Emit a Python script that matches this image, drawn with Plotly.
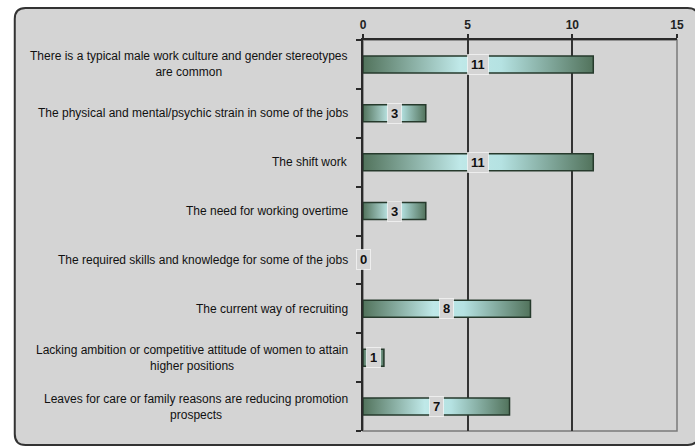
import plotly.graph_objects as go

categories = [
    "There is a typical male work culture and gender stereotypes<br>are common",
    "The physical and mental/psychic strain in some of the jobs",
    "The shift work",
    "The need for working overtime",
    "The required skills and knowledge for some of the jobs",
    "The current way of recruiting",
    "Lacking ambition or competitive attitude of women to attain<br>higher positions",
    "Leaves for care or family reasons are reducing promotion<br>prospects",
]
values = [11, 3, 11, 3, 0, 8, 1, 7]
x_ticks = [0, 5, 10, 15]

W, H = 695, 448
ML, MR, MT, MB = 363, 11, 40, 17
PW, PH = W - ML - MR, H - MT - MB

def px2x(px):
    return (px - ML) / PW

def py2y(py):
    return (H - MB - py) / PH

BG = "#d4d4d4"
DARK = "#2a2a2a"
BAR_DARK = "#52735c"
BAR_LIGHT = "#bfe8e8"
HALF = 0.175

fig = go.Figure()

for i, v in enumerate(values):
    if v <= 0:
        continue
    fig.add_trace(go.Scatter(
        x=[0, v, v, 0, 0],
        y=[i - HALF, i - HALF, i + HALF, i + HALF, i - HALF],
        mode="lines",
        fill="toself",
        fillgradient=dict(type="horizontal",
                          colorscale=[[0, BAR_DARK], [0.42, BAR_LIGHT],
                                      [0.6, "#b5e2e2"], [1, BAR_DARK]]),
        line=dict(color="#263a2c", width=1.5),
        hoverinfo="skip",
        showlegend=False,
    ))

annotations = []
for i, (c, v) in enumerate(zip(categories, values)):
    annotations.append(dict(
        x=0, xref="paper", y=i, yref="y", xanchor="right", yanchor="middle",
        xshift=-13, text=c, align="center", showarrow=False,
        font=dict(family="Liberation Sans Narrow, Arial Narrow, Liberation Sans, Arial",
                  size=12, color="#111111"),
    ))
    annotations.append(dict(
        x=v / 2, xref="x", y=i, yref="y", text="<b>%d</b>" % v, showarrow=False,
        xanchor="center", yanchor="middle", height=13,
        bgcolor=BG, bordercolor="rgba(255,255,255,0.6)", borderwidth=1, borderpad=3,
        font=dict(family="Liberation Sans, Arial", size=13, color="#111111"),
    ))

# rounded card behind everything (right edge runs off the picture)
L, T, R, B, r = 7, 8, 706, 445, 11
path = (
    f"M {px2x(L + r)} {py2y(T)} L {px2x(R - r)} {py2y(T)} "
    f"Q {px2x(R)} {py2y(T)} {px2x(R)} {py2y(T + r)} "
    f"L {px2x(R)} {py2y(B - r)} Q {px2x(R)} {py2y(B)} {px2x(R - r)} {py2y(B)} "
    f"L {px2x(L + r)} {py2y(B)} Q {px2x(L)} {py2y(B)} {px2x(L)} {py2y(B - r)} "
    f"L {px2x(L)} {py2y(T + r)} Q {px2x(L)} {py2y(T)} {px2x(L + r)} {py2y(T)} Z"
)
shapes = [
    dict(type="path", xref="paper", yref="paper", path=path, layer="below",
         fillcolor=BG, line=dict(color="#333333", width=2)),
    dict(type="rect", xref="paper", yref="paper", x0=0, x1=1, y0=0, y1=1,
         layer="below", line=dict(color="#7a7a7a", width=1.5)),
]

fig.update_layout(
    width=W, height=H,
    margin=dict(l=ML, r=MR, t=MT, b=MB),
    paper_bgcolor="white",
    plot_bgcolor="rgba(0,0,0,0)",
    shapes=shapes,
    annotations=annotations,
    showlegend=False,
    xaxis=dict(
        side="top", range=[0, 15], tickvals=x_ticks, ticktext=["<b>%d</b>" % t for t in x_ticks],
        showgrid=True, gridcolor="#333333", gridwidth=1.5,
        showline=True, linecolor=DARK, linewidth=1.5,
        ticks="outside", ticklen=4, tickcolor=DARK, tickwidth=1.5,
        tickfont=dict(family="Liberation Sans, Arial", size=12, color="#222222"),
        zeroline=False, fixedrange=True,
    ),
    yaxis=dict(
        range=[len(categories) - 0.5, -0.5],
        tickvals=[i - 0.5 for i in range(len(categories) + 1)],
        showticklabels=False, showgrid=False, zeroline=False,
        showline=True, linecolor=DARK, linewidth=1.5,
        ticks="outside", ticklen=5, tickcolor=DARK, tickwidth=1.5,
        fixedrange=True,
    ),
)

fig.write_html("out.html", config={"displayModeBar": False},
               post_script="document.body.style.margin='0px';")
